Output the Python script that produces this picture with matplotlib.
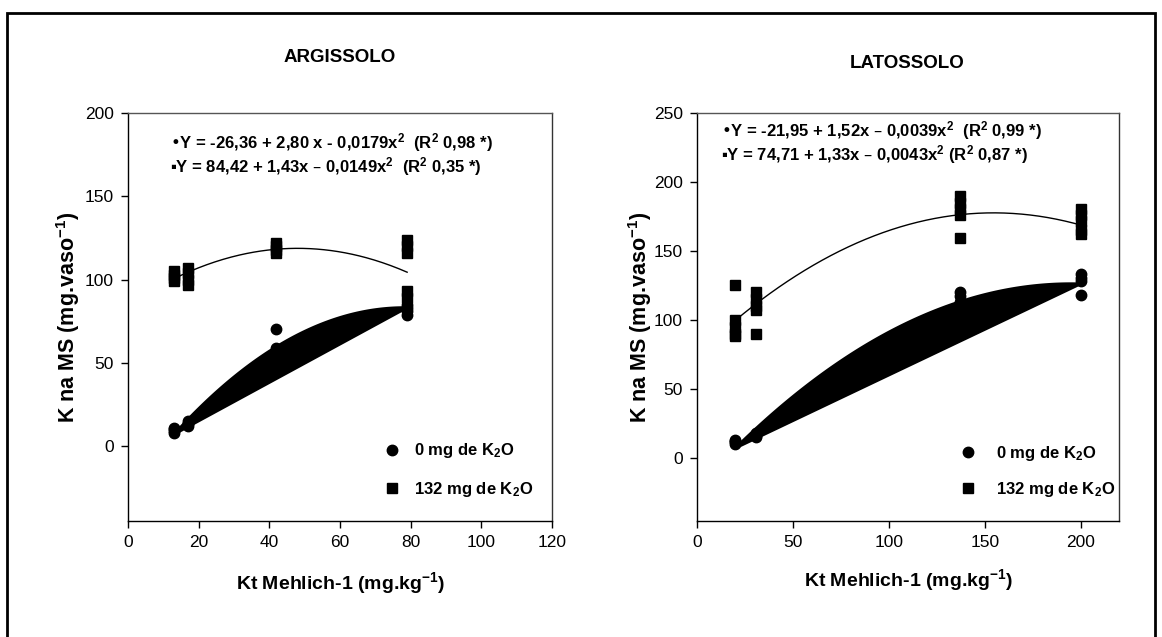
import matplotlib
matplotlib.use('Agg')
import matplotlib.pyplot as plt
import numpy as np
from matplotlib.patches import Rectangle
from matplotlib.lines import Line2D

plt.rcParams['font.family'] = ['Liberation Sans Narrow', 'Liberation Sans', 'DejaVu Sans']
plt.rcParams['mathtext.default'] = 'regular'

# ---------------- data ----------------
# ARGISSOLO
arg_x0 = [13, 13, 13, 13, 17, 17, 17, 17, 42, 42, 42, 42, 79, 79, 79, 79]
arg_y0 = [8, 9, 10, 11, 12, 13, 14, 15, 70, 59, 56, 54, 79, 81, 83, 85]
arg_x132 = [13, 13, 13, 13, 17, 17, 17, 17, 42, 42, 42, 42, 79, 79, 79, 79, 79]
arg_y132 = [99, 101, 103, 105, 97, 100, 104, 107, 116, 118, 120, 122, 124, 120, 116, 93, 89]
arg_coef0 = [-26.36, 2.80, -0.0179]
arg_coef132 = [84.42, 1.43, -0.0149]
arg_range = [13, 79]

# LATOSSOLO
lat_x0 = [20, 20, 20, 20, 31, 31, 31, 31, 137, 137, 137, 137, 200, 200, 200, 200]
lat_y0 = [10, 11, 12, 13, 15, 16, 17, 18, 120, 117, 113, 110, 133, 130, 128, 118]
lat_x132 = [20, 20, 20, 20, 20, 31, 31, 31, 31, 31, 137, 137, 137, 137, 137, 200, 200, 200, 200, 200]
lat_y132 = [125, 100, 95, 90, 88, 120, 115, 110, 107, 90, 190, 185, 180, 176, 159, 180, 176, 172, 165, 162]
lat_coef0 = [-21.95, 1.52, -0.0039]
lat_coef132 = [74.71, 1.33, -0.0043]
lat_range = [20, 200]

arg_eq = ['\u2022Y = -26,36 + 2,80 x - 0,0179x$^2$  (R$^2$ 0,98 *)',
          '\u25aaY = 84,42 + 1,43x \u2013 0,0149x$^2$  (R$^2$ 0,35 *)']
lat_eq = ['\u2022Y = -21,95 + 1,52x \u2013 0,0039x$^2$  (R$^2$ 0,99 *)',
          '\u25aaY = 74,71 + 1,33x \u2013 0,0043x$^2$ (R$^2$ 0,87 *)']
legend_labels = ['0 mg de K$_2$O', '132 mg de K$_2$O']

W, H = 1162, 637
fig = plt.figure(figsize=(W / 100, H / 100), dpi=100)

axL = fig.add_axes([128 / W, 1 - 521 / H, 424 / W, 408 / H])
axR = fig.add_axes([697 / W, 1 - 521 / H, 422 / W, 408 / H])


def quad(c, x):
    x = np.asarray(x, float)
    return c[0] + c[1] * x + c[2] * x ** 2


def draw(ax, x0, y0, x132, y132, c0, c132, rng):
    xs = np.linspace(rng[0], rng[1], 200)
    # the 0 mg fit rendered as a filled black shape (curve closed by its chord)
    ax.fill(xs, quad(c0, xs), facecolor='black', edgecolor='black', lw=2, zorder=2)
    ax.plot(xs, quad(c132, xs), color='black', lw=1, zorder=2)
    ax.plot(x0, y0, 'o', color='black', ms=7.5, ls='none', zorder=3)
    ax.plot(x132, y132, 's', color='black', ms=7.5, ls='none', zorder=3)


draw(axL, arg_x0, arg_y0, arg_x132, arg_y132, arg_coef0, arg_coef132, arg_range)
draw(axR, lat_x0, lat_y0, lat_x132, lat_y132, lat_coef0, lat_coef132, lat_range)

axL.set_xlim(0, 120)
axL.set_ylim(-45, 200)
axL.set_xticks(np.arange(0, 121, 20))
axL.set_yticks(np.arange(0, 201, 50))

axR.set_xlim(0, 220)
axR.set_ylim(-46, 250)
axR.set_xticks(np.arange(0, 201, 50))
axR.set_yticks(np.arange(0, 251, 50))

for ax in (axL, axR):
    ax.tick_params(direction='out', length=5, width=1, labelsize=12.5, pad=5,
                   top=False, right=False)
    for s in ax.spines.values():
        s.set_linewidth(1)
    ax.spines['top'].set_color('#555555')
    ax.spines['right'].set_color('#333333')

# equations
for i, t in enumerate(arg_eq):
    axL.text(42 / 424, 1 - (143 + 24 * i - 113) / 408, t, transform=axL.transAxes,
             fontsize=12, fontweight='bold', va='center', ha='left')
for i, t in enumerate(lat_eq):
    axR.text(24 / 422, 1 - (131 + 24 * i - 113) / 408, t, transform=axR.transAxes,
             fontsize=12, fontweight='bold', va='center', ha='left')

# legends
handles = [Line2D([], [], marker='o', ls='none', color='k', ms=7.5),
           Line2D([], [], marker='s', ls='none', color='k', ms=6.5)]
prop = {'weight': 'bold', 'size': 12}
axL.legend(handles, legend_labels, loc='upper left', bbox_to_anchor=(0.603, 0.195),
           frameon=False, prop=prop, handlelength=1, handletextpad=0.8,
           labelspacing=1.15, borderpad=0, borderaxespad=0)
axR.legend(handles, legend_labels, loc='upper left', bbox_to_anchor=(0.622, 0.188),
           frameon=False, prop=prop, handlelength=1, handletextpad=1.2,
           labelspacing=1.0, borderpad=0, borderaxespad=0)

# titles and axis labels
fig.text(340 / W, 1 - 58 / H, 'ARGISSOLO', ha='center', va='center',
         fontsize=13.5, fontweight='bold')
fig.text(907 / W, 1 - 63 / H, 'LATOSSOLO', ha='center', va='center',
         fontsize=13.5, fontweight='bold')
fig.text(340 / W, 1 - 583 / H, 'Kt Mehlich-1 (mg.kg$^{-1}$)', ha='center', va='center',
         fontsize=14, fontweight='bold')
fig.text(908 / W, 1 - 580 / H, 'Kt Mehlich-1 (mg.kg$^{-1}$)', ha='center', va='center',
         fontsize=14, fontweight='bold')
fig.text(68 / W, 1 - 317 / H, 'K na MS (mg.vaso$^{-1}$)', ha='center', va='center',
         rotation=90, fontsize=15.5, fontweight='bold')
fig.text(640 / W, 1 - 317 / H, 'K na MS (mg.vaso$^{-1}$)', ha='center', va='center',
         rotation=90, fontsize=15.5, fontweight='bold')

# outer frame
fig.add_artist(Rectangle((7 / W, -0.05), (1155 - 7) / W, (637 - 13) / H + 0.05,
                         transform=fig.transFigure, fill=False, lw=2, ec='black'))

fig.savefig('out.png', dpi=100)
